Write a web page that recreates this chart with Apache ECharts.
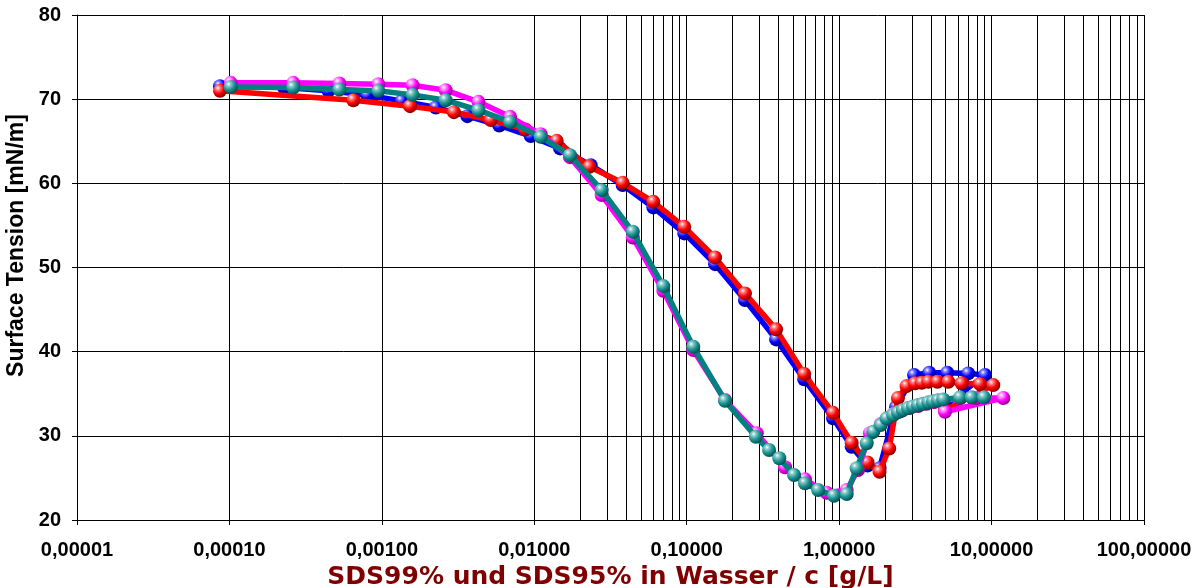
<!DOCTYPE html>
<html>
<head>
<meta charset="utf-8">
<script src="https://cdn.jsdelivr.net/npm/echarts@6/dist/echarts.min.js"></script>
<style>
  html, body { margin: 0; padding: 0; background: #ffffff; }
  #chart { width: 1194px; height: 588px; }
</style>
</head>
<body>
<div id="chart"></div>
<script>
// Messreihen: [Konzentration c in g/L, Oberflächenspannung in mN/m]
const serieBlau = [
  [8.67e-5, 71.54], [2.28e-4, 71.39], [4.46e-4, 70.99], [8.02e-4, 70.48], [1.349e-3, 69.80],
  [2.26e-3, 69.01], [3.64e-3, 67.98], [5.89e-3, 66.88], [9.48e-3, 65.61], [0.01476, 64.15],
  [0.02344, 62.16], [0.0380, 59.79], [0.0604, 57.14], [0.0964, 54.05], [0.1535, 50.40],
  [0.241, 46.13], [0.386, 41.46], [0.590, 36.71], [0.912, 32.08], [1.208, 28.71],
  [1.535, 26.47], [1.841, 26.14], [2.36, 33.42], [3.10, 37.22], [3.90, 37.49],
  [5.12, 37.49], [7.03, 37.42], [9.06, 37.22], [4.95, 33.60]
];
const serieRot = [
  [8.67e-5, 70.99], [6.50e-4, 69.88], [1.531e-3, 69.17], [2.97e-3, 68.46], [5.18e-3, 67.51],
  [8.73e-3, 66.40], [0.01403, 65.05], [0.02296, 61.96], [0.0380, 60.06], [0.0604, 57.80],
  [0.0964, 54.83], [0.1535, 51.20], [0.241, 46.92], [0.386, 42.65], [0.590, 37.34],
  [0.912, 32.73], [1.208, 29.18], [1.535, 26.83], [1.841, 25.74], [2.13, 28.49],
  [2.43, 34.49], [2.77, 35.91], [3.15, 36.24], [3.48, 36.31], [3.85, 36.43],
  [4.41, 36.43], [5.20, 36.43], [6.37, 36.24], [8.40, 36.15], [10.26, 36.03], [4.95, 33.06]
];
const serieMagenta = [
  [1.019e-4, 71.94], [2.62e-4, 71.94], [5.26e-4, 71.86], [9.48e-4, 71.78], [1.59e-3, 71.66],
  [2.62e-3, 71.07], [4.30e-3, 69.68], [6.94e-3, 67.90], [0.01101, 65.84], [0.01714, 63.11],
  [0.02767, 58.60], [0.0443, 53.57], [0.0702, 47.23], [0.1104, 40.19], [0.1782, 34.25],
  [0.288, 30.30], [0.442, 26.26], [0.597, 24.83], [0.828, 23.24], [1.121, 23.56],
  [1.33, 25.94], [1.593, 30.30], [1.874, 31.40], [2.05, 32.00], [2.265, 32.60],
  [2.55, 32.95], [2.90, 33.30], [3.30, 33.55], [3.75, 33.80], [4.20, 34.00],
  [4.82, 34.20], [6.21, 34.45], [7.90, 34.50], [11.94, 34.49], [4.95, 32.86]
];
const serieTuerkis = [
  [1.019e-4, 71.46], [2.62e-4, 71.39], [5.26e-4, 71.15], [9.48e-4, 70.99], [1.59e-3, 70.51],
  [2.62e-3, 69.88], [4.30e-3, 68.69], [6.94e-3, 67.30], [0.01101, 65.52], [0.01714, 63.35],
  [0.02767, 59.19], [0.0443, 54.24], [0.0702, 47.79], [0.1104, 40.58], [0.1782, 34.17],
  [0.284, 29.89], [0.347, 28.31], [0.405, 27.33], [0.506, 25.34], [0.597, 24.36],
  [0.729, 23.56], [0.925, 22.89], [1.121, 23.09], [1.303, 26.14], [1.517, 29.11],
  [1.675, 30.49], [1.874, 31.28], [2.05, 32.08], [2.265, 32.47], [2.43, 32.79],
  [2.62, 33.06], [2.83, 33.30], [3.05, 33.50], [3.29, 33.66], [3.55, 33.81],
  [3.85, 33.98], [4.13, 34.10], [4.45, 34.22], [4.82, 34.33], [6.21, 34.57],
  [7.41, 34.57], [8.92, 34.57]
];

// Achsen
const xMin = 1e-5, xMax = 1e2;
const yMin = 20, yMax = 80, yStep = 10;
const xTitel = 'SDS99% und SDS95% in Wasser / c [g/L]';
const yTitel = 'Surface Tension [mN/m]';

// Zwischenlinien des logarithmischen Rasters (2..9 je Dekade)
const zwischenLinien = [];
for (let e = -5; e <= 1; e++) {
  for (let m = 2; m <= 9; m++) zwischenLinien.push(m * Math.pow(10, e));
}

function kugel(hell, mitte, dunkel) {
  return new echarts.graphic.RadialGradient(0.35, 0.3, 0.75, [
    { offset: 0, color: '#ffffff' },
    { offset: 0.2, color: hell },
    { offset: 0.55, color: mitte },
    { offset: 1, color: dunkel }
  ]);
}

function linie(name, daten, linienFarbe, markerFarbe, z) {
  return {
    name: name,
    type: 'line',
    data: daten,
    z: z,
    symbol: 'circle',
    symbolSize: 14,
    showAllSymbol: true,
    lineStyle: { color: linienFarbe, width: 5.5 },
    itemStyle: { color: markerFarbe, borderWidth: 0 },
    emphasis: { disabled: true },
    animation: false
  };
}

const chart = echarts.init(document.getElementById('chart'), null, { renderer: 'canvas' });

const reihen = [
  linie('blau', serieBlau, '#0000ff', kugel('#8080ff', '#0000ff', '#000070'), 3),
  linie('rot', serieRot, '#ff0000', kugel('#ff8080', '#ff0000', '#700000'), 4),
  linie('magenta', serieMagenta, '#ff00ff', kugel('#ff9cff', '#ff00ff', '#800080'), 5),
  linie('tuerkis', serieTuerkis, '#008080', kugel('#8fcaca', '#1a9494', '#004848'), 6)
];
reihen[0].markLine = {
  silent: true,
  z: 1,
  symbol: ['none', 'none'],
  label: { show: false },
  lineStyle: { color: '#000000', width: 1, type: 'solid', opacity: 1 },
  emphasis: { disabled: true },
  animation: false,
  data: zwischenLinien.map(v => ({ xAxis: v }))
};

chart.setOption({
  animation: false,
  backgroundColor: '#ffffff',
  grid: { left: 77, right: 50, top: 15, bottom: 68, containLabel: false, outerBoundsMode: 'none' },
  xAxis: {
    type: 'log',
    logBase: 10,
    min: xMin,
    max: xMax,
    splitNumber: 7,
    name: xTitel,
    nameLocation: 'middle',
    nameGap: 42,
    nameTextStyle: { color: '#800000', fontFamily: 'DejaVu Sans', fontWeight: 'bold', fontSize: 25 },
    axisLine: { show: true, lineStyle: { color: '#000000', width: 1 } },
    axisTick: { show: true, inside: false, length: 5, lineStyle: { color: '#000000' } },
    axisLabel: {
      color: '#000000', fontFamily: 'Liberation Sans', fontWeight: 'bold', fontSize: 20, margin: 20,
      formatter: v => Number(v).toFixed(5).replace('.', ',')
    },
    splitLine: { show: true, lineStyle: { color: '#000000', width: 1 } },
    minorTick: { show: false },
    minorSplitLine: { show: false }
  },
  yAxis: {
    type: 'value',
    min: yMin,
    max: yMax,
    interval: yStep,
    name: yTitel,
    nameLocation: 'middle',
    nameGap: 40,
    nameRotate: 90,
    nameTextStyle: {
      color: '#000000', fontFamily: 'Liberation Sans', fontWeight: 'bold', fontSize: 23,
      padding: [0, 0, 0, 44]
    },
    axisLine: { show: true, lineStyle: { color: '#000000', width: 1 } },
    axisTick: { show: true, inside: false, length: 5, lineStyle: { color: '#000000' } },
    axisLabel: { color: '#000000', fontFamily: 'Liberation Sans', fontWeight: 'bold', fontSize: 20, margin: 16 },
    splitLine: { show: true, lineStyle: { color: '#000000', width: 1 } }
  },
  series: reihen
});
</script>
</body>
</html>
